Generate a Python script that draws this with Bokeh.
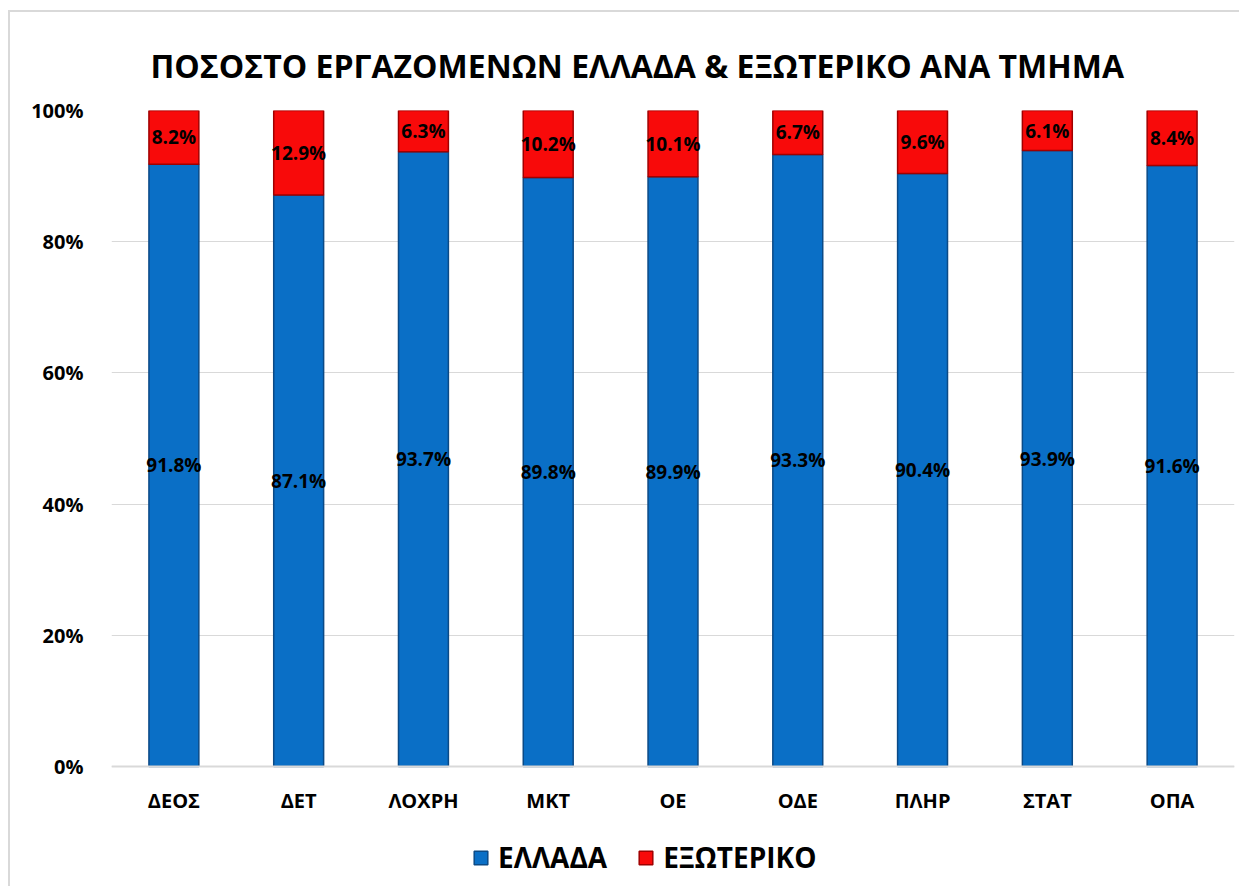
from bokeh.plotting import figure
from bokeh.models import ColumnDataSource, Legend, LegendItem, LabelSet, NumeralTickFormatter, FixedTicker, Range1d, Title
from bokeh.core.properties import value
from bokeh.embed import file_html
from bokeh.resources import INLINE

categories = ["ΔΕΟΣ", "ΔΕΤ", "ΛΟΧΡΗ", "ΜΚΤ", "ΟΕ", "ΟΔΕ", "ΠΛΗΡ", "ΣΤΑΤ", "ΟΠΑ"]
greece = [91.8, 87.1, 93.7, 89.8, 89.9, 93.3, 90.4, 93.9, 91.6]
abroad = [8.2, 12.9, 6.3, 10.2, 10.1, 6.7, 9.6, 6.1, 8.4]
series_names = ["ΕΛΛΑΔΑ", "ΕΞΩΤΕΡΙΚΟ"]
title_text = "ΠΟΣΟΣΤΟ ΕΡΓΑΖΟΜΕΝΩΝ ΕΛΛΑΔΑ & ΕΞΩΤΕΡΙΚΟ ΑΝΑ ΤΜΗΜΑ"

FONT = "Open Sans"
BLUE = "#0A6FC6"
RED = "#F80A0A"

PLOT_H = 656      # pixels for 0..100%
FRAME_H = 776     # frame extends below 0% to hold the legend

g = [v / 100 for v in greece]
a = [v / 100 for v in abroad]
src = ColumnDataSource(dict(
    cat=categories, g=g, a=a,
    g_mid=[v / 2 for v in g],
    a_mid=[gv + av / 2 for gv, av in zip(g, a)],
    g_lab=[f"{v:.1f}%" for v in greece],
    a_lab=[f"{v:.1f}%" for v in abroad],
))

p = figure(x_range=categories, y_range=Range1d(-(FRAME_H - PLOT_H) / PLOT_H, 1),
           frame_width=1123, frame_height=FRAME_H,
           output_backend="svg", toolbar_location=None,
           min_border_left=101, min_border_right=5, min_border_top=98, min_border_bottom=0)
p.styles = {"margin-left": "8px", "margin-top": "10px",
            "border-left": "2px solid #d9d9d9", "border-top": "2px solid #d9d9d9"}

r = p.vbar_stack(["g", "a"], x="cat", width=0.4, source=src,
                 fill_color=[BLUE, RED], line_color=["#0B4A86", "#A00000"], line_width=1.5)

for ycol, tcol in (("g_mid", "g_lab"), ("a_mid", "a_lab")):
    p.add_layout(LabelSet(x="cat", y=ycol, text=tcol, source=src, text_align="center",
                          text_baseline="middle", text_font=value(FONT), text_font_style="bold",
                          text_font_size="19px", text_color="black"))

p.title = Title(text=title_text, align="left", offset=39, standoff=48,
                text_font=FONT, text_font_style="bold", text_font_size="32px", text_color="black")

p.yaxis.ticker = FixedTicker(ticks=[0, 0.2, 0.4, 0.6, 0.8, 1.0])
p.yaxis.formatter = NumeralTickFormatter(format="0%")
p.yaxis.axis_line_color = None
p.yaxis.major_tick_line_color = None
p.yaxis.minor_tick_line_color = None
p.yaxis.major_label_standoff = 22
p.xaxis.fixed_location = 0
p.xaxis.axis_line_color = "#d9d9d9"
p.xaxis.axis_line_width = 2
p.xaxis.major_tick_line_color = None
p.xaxis.major_label_standoff = 14
for ax in (p.xaxis, p.yaxis):
    ax.major_label_text_font = FONT
    ax.major_label_text_font_style = "bold"
    ax.major_label_text_font_size = "20px"
    ax.major_label_text_color = "black"

p.xgrid.grid_line_color = None
p.ygrid.grid_line_color = "#d9d9d9"
p.ygrid.grid_line_width = 1
p.outline_line_color = None
p.x_range.range_padding = 0.0

legend = Legend(items=[LegendItem(label=series_names[0], renderers=[r[0]]),
                       LegendItem(label=series_names[1], renderers=[r[1]])],
                orientation="horizontal", location=(361, 10),
                label_text_font=FONT, label_text_font_style="bold", label_text_font_size="28px",
                label_text_color="black",
                glyph_width=17, glyph_height=17, label_standoff=9, spacing=30,
                padding=0, margin=0, border_line_color=None, background_fill_alpha=0)
p.add_layout(legend, "center")

open("out.html", "w").write(file_html(p, INLINE))
